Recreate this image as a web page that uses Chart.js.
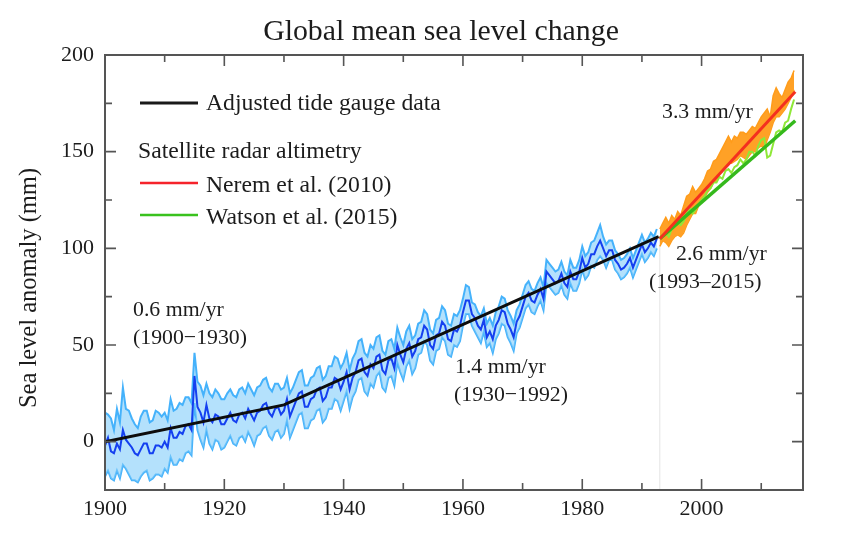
<!DOCTYPE html>
<html><head><meta charset="utf-8">
<style>html,body{margin:0;padding:0;background:#fff}#w{width:843px;height:540px;position:relative}</style>
<script src="https://cdn.jsdelivr.net/npm/chart.js@4"></script></head>
<body><div id="w"><canvas id="c" width="843" height="540"></canvas></div>
<script>
const tideStartYear = 1900;
const tideMean = [
 -2,2,-5,-6,-1,-4,6,1,-1,-3,-6,-7,-4,-1,-1,-6,-6,-2,-2,-3,
 0,-3,7,2,2,5,4,8,9,6,34,18,15,10,19,12,10,14,13,9,
 9,12,15,11,10,14,15,12,17,14,11,15,16,19,20,15,13,17,18,14,
 16,22,13,17,21,25,26,18,18,22,23,27,28,21,23,28,28,33,32,27,
 31,36,27,33,36,42,43,36,34,40,38,44,45,37,35,42,43,38,50,45,
 41,48,51,44,47,53,54,60,58,50,48,55,56,62,60,53,52,58,57,60,
 67,73,73,66,64,60,58,63,54,57,53,60,63,68,67,61,58,54,62,65,
 70,75,77,73,72,76,79,74,88,86,84,82,83,87,82,80,88,84,84,88,
 95,90,92,97,97,101,104,100,96,99,99,94,92,89,90,92,95,90,94,98,
 102,98,100,103,101,105];
const tideUpper = [
 15,14,12,6,17,10,28,17,16,12,9,7,13,16,16,10,11,16,15,13,
 15,11,22,16,17,20,19,23,23,20,46,31,29,24,30,25,23,27,25,22,
 22,25,27,24,23,27,28,25,30,27,24,28,29,32,33,28,26,30,30,27,
 28,33,25,28,32,36,37,29,29,33,34,38,39,32,34,39,39,44,43,38,
 41,46,37,43,46,52,53,46,44,50,48,54,55,47,45,52,53,48,59,54,
 50,57,60,53,55,61,62,68,66,58,56,63,64,70,68,61,60,66,65,68,
 74,81,80,72,71,67,65,69,61,64,60,67,70,75,74,68,65,61,68,71,
 76,81,83,79,78,82,85,80,94,92,90,88,89,93,88,86,94,90,90,94,
 101,96,98,103,104,108,112,106,102,104,104,99,97,94,95,97,100,95,99,103,
 107,103,105,108,106,110];
const tideLower = [
 -18,-15,-19,-20,-15,-19,-12,-14,-17,-20,-20,-21,-18,-16,-15,-20,-19,-17,-17,-18,
 -14,-16,-8,-12,-12,-9,-10,-6,-5,-7,20,6,1,-3,6,-1,-4,1,0,-4,
 -3,0,3,-1,-2,2,3,0,5,2,-2,3,4,7,8,3,1,5,6,2,
 4,11,2,6,10,14,15,7,7,11,12,16,17,10,12,17,17,22,21,16,
 21,26,17,23,26,32,33,26,24,30,28,34,36,28,26,33,34,29,41,36,
 32,39,42,35,38,45,46,52,50,42,40,47,48,54,52,45,44,50,49,52,
 60,66,66,60,57,54,51,57,49,51,46,53,56,61,60,54,51,47,56,59,
 64,69,71,67,66,70,73,68,82,80,78,76,77,81,76,74,82,78,78,82,
 89,84,86,91,90,94,96,94,90,94,94,89,87,84,85,87,90,85,89,93,
 97,93,95,98,96,100];
const satStartYear = 1993;
const neremUpper = [110,113,116,113,117,115,119,117,122,127,128,132,129,131,133,136,140,141,145,146,149,152,155,158,155,158,157,160,160,159,161,163,162,165,168,170,172,168,179,183,180,178,182,186,188,192];
const neremLower = [101,104,103,101,104,106,107,106,108,112,115,118,118,122,124,126,129,131,134,135,139,141,143,144,144,145,146,148,147,146,148,150,150,152,153,152,156,160,165,168,168,170,172,175,178,182];
const watson = [105,107,108,106,110,111,113,112,114,118,121,118,120,123,125,127,130,131,134,134,137,136,140,141,139,142,143,146,144,146,150,150,148,153,156,157,147,148,154,160,161,160,165,166,172,177];
const tideTrendYears = [1900,1930,1992.8];
const tideTrend = [0,19,106];
const nerTrendYears = [1993,2015.7];
const nerTrend = [105,181];
const watTrendYears = [1993,2015.7];
const watTrend = [105,166];
const separatorYears = [1993,1993];
const separatorVals = [-25,105];
const xMajor = [1900,1920,1940,1960,1980,2000];
const yMajor = [0,50,100,150,200];

const serif = '"Liberation Serif"';
const txt = '#1c1c1c';
const frame = '#555';
const seq = (vals,start,step)=>vals.map((y,i)=>({x:start+i*step,y}));
const pts = (xs,ys)=>xs.map((x,i)=>({x,y:ys[i]}));
const line = (data,color,w,extra)=>Object.assign({data,borderColor:color,borderWidth:w,pointRadius:0,tension:0,fill:false,parsing:false},extra||{});

const notes = {
 id:'notes',
 afterDatasetsDraw(ch){
  const c=ch.ctx, xs=ch.scales.x, ys=ch.scales.y, a=ch.chartArea;
  c.save();
  c.strokeStyle=frame;c.lineWidth=1.6;
  for(const v of xs.ticks.map(t=>t.value)){
    const p=xs.getPixelForValue(v), l=xMajor.includes(v)?11:7;
    c.beginPath();c.moveTo(p,a.bottom);c.lineTo(p,a.bottom-l);c.moveTo(p,a.top);c.lineTo(p,a.top+l);c.stroke();
  }
  for(const v of ys.ticks.map(t=>t.value)){
    const p=ys.getPixelForValue(v), l=yMajor.includes(v)?11:7;
    c.beginPath();c.moveTo(a.left,p);c.lineTo(a.left+l,p);c.moveTo(a.right,p);c.lineTo(a.right-l,p);c.stroke();
  }
  c.strokeStyle=frame;c.lineWidth=2;c.strokeRect(a.left,a.top,a.width,a.height);
  [[103,'#1a1a1a',3],[183,'#f5232b',2.5],[215,'#3ac21e',2.5]].forEach(([y,col,w])=>{
    c.strokeStyle=col;c.lineWidth=w;c.beginPath();c.moveTo(140,y);c.lineTo(198,y);c.stroke();
  });
  c.fillStyle=txt;c.textBaseline='alphabetic';c.textAlign='left';
  c.font='23.7px '+serif;
  c.fillText('Adjusted tide gauge data',206,110);
  c.fillText('Satellite radar altimetry',138,158);
  c.fillText('Nerem et al. (2010)',206,192);
  c.fillText('Watson et al. (2015)',206,224);
  c.font='21.8px '+serif;
  c.fillText('3.3 mm/yr',662,118);
  c.fillText('2.6 mm/yr',676,260);
  c.fillText('(1993\u20132015)',649,288);
  c.fillText('0.6 mm/yr',133,316);
  c.fillText('(1900\u22121930)',133,344);
  c.fillText('1.4 mm/yr',455,373);
  c.fillText('(1930\u22121992)',454,401);
  c.font='29.8px '+serif;c.textAlign='center';
  c.fillText('Global mean sea level change',441,40);
  c.save();c.translate(36,288);c.rotate(-Math.PI/2);
  c.font='24.5px '+serif;c.fillText('Sea level anomaly (mm)',0,0);c.restore();
  c.restore();
 }
};

new Chart(document.getElementById('c'),{
 type:'line',
 data:{datasets:[
  line(pts(nerTrendYears,nerTrend),'#f4301f',3),
  line(pts(watTrendYears,watTrend),'#35b91c',3.5),
  line(seq(watson,satStartYear,0.5),'#8fe838',2),
  line(seq(neremUpper,satStartYear,0.5),'#ff9c1a',1.5,{fill:'+1',backgroundColor:'#ffa126'}),
  line(seq(neremLower,satStartYear,0.5),'#ff9c1a',1.5),
  line(pts(tideTrendYears,tideTrend),'#0d0d0d',3),
  line(seq(tideMean,tideStartYear,0.5),'#1440f0',2),
  line(seq(tideUpper,tideStartYear,0.5),'#45b2fb',2,{fill:'+1',backgroundColor:'rgba(130,205,250,0.6)'}),
  line(seq(tideLower,tideStartYear,0.5),'#45b2fb',2),
  line(pts(separatorYears,separatorVals),'#e4e4e4',1)
 ]},
 plugins:[notes],
 options:{
  responsive:false,animation:false,
  layout:{padding:{left:0,right:40,top:55,bottom:0}},
  plugins:{legend:{display:false},tooltip:{enabled:false}},
  scales:{
   x:{type:'linear',min:1900,max:2017,
      afterBuildTicks(s){s.ticks=[1900,1910,1920,1930,1940,1950,1960,1970,1980,1990,2000,2010].map(value=>({value}));},
      afterFit(s){s.height=50;},
      grid:{display:false},border:{display:false},
      ticks:{autoSkip:false,maxRotation:0,padding:-2,color:txt,font:{family:serif,size:22},callback:v=>xMajor.includes(v)?String(v):''}},
   y:{type:'linear',min:-25,max:200,
      afterBuildTicks(s){s.ticks=[-25,0,25,50,75,100,125,150,175,200].map(value=>({value}));},
      afterFit(s){s.width=105;},
      grid:{display:false},border:{display:false},
      ticks:{autoSkip:false,padding:3,color:txt,font:{family:serif,size:22},callback:v=>yMajor.includes(v)?String(v):''}}
  }
 }
});
</script></body></html>
